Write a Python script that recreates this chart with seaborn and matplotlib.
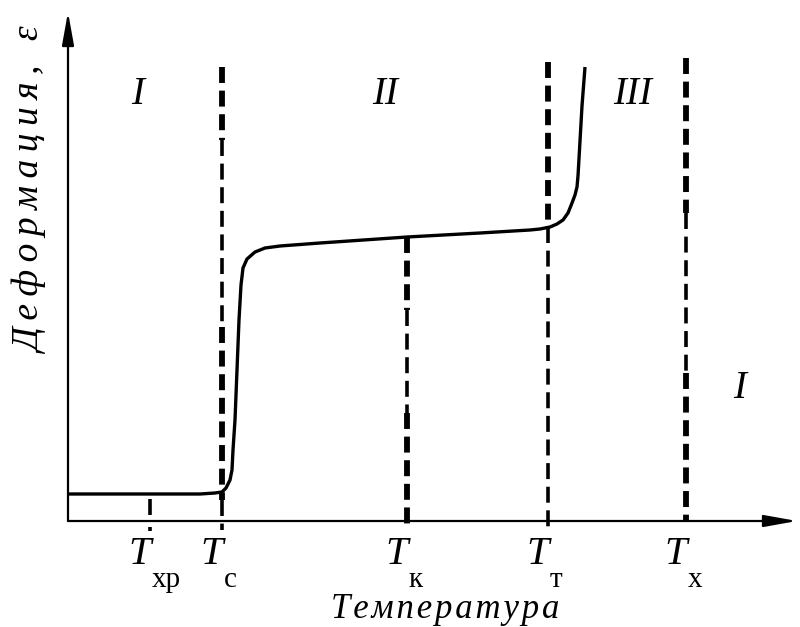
import numpy as np
import pandas as pd
import matplotlib
matplotlib.use("Agg")
import matplotlib.pyplot as plt
import seaborn as sns

# ---- data (schematic units: origin at the axes crossing) ----
# thermomechanical curve (temperature, deformation)
curve_T = [0, 82, 132, 147, 154, 158, 162, 164, 165, 167, 169, 171, 173, 175,
           179, 187, 197, 212, 252, 339, 412, 462, 472, 482, 489, 495, 500,
           504, 507, 509, 510, 512, 514, 517]
curve_eps = [27, 27, 27, 28, 29, 33, 41, 51, 71, 101, 151, 201, 236, 253,
             262, 269, 273, 275, 278, 284, 288, 291, 292, 294, 297, 301, 308,
             318, 326, 334, 345, 380, 415, 454]

# characteristic temperatures (x positions)
char_names = ["хр", "с", "к", "т", "х"]
char_T = [82, 154, 339, 480, 618]

# dashed marker segments for each temperature: (top, bottom, width)
segments = {
    "хр": [(22, 6, "thin"), (-6, -10, "thin")],
    "с": [(454, 381, "thick"), (381, 194, "thin"), (194, 21, "thick"), (21, -9, "thin")],
    "к": [(284, 211, "thick"), (211, 108, "thin"), (108, -9, "thick")],
    "т": [(459, 294, "thick"), (294, -8, "thin")],
    "х": [(463, 308, "thick"), (308, 148, "thin"), (148, 0, "thick")],
}
width_pt = {"thick": 4.2, "thin": 2.6}

# region labels
region_labels = ["I", "II", "III", "I"]
region_T = [70, 317, 565, 672]
region_eps = [426, 426, 426, 133]

x_label = "Температура"
y_label = "Деформация, ε"

# ---- figure ----
sns.set_theme(style="white")
plt.rcParams["font.family"] = ["Liberation Serif", "DejaVu Serif"]
plt.rcParams["lines.scale_dashes"] = False

fig = plt.figure(figsize=(8.0, 6.27), dpi=100)
ax = fig.add_axes([0, 0, 1, 1])
ax.set_xlim(-68, 732)
ax.set_ylim(-106, 521)
ax.axis("off")

# axes with arrows
arrow = dict(arrowstyle="-|>,head_length=1.0,head_width=0.18", color="black",
             lw=1.6, shrinkA=0, shrinkB=0, mutation_scale=20)
ax.annotate("", xy=(0, 509), xytext=(0, 0), arrowprops=arrow)
ax.annotate("", xy=(729, 0), xytext=(0, 0), arrowprops=arrow)

# curve
df = pd.DataFrame({"T": curve_T, "eps": curve_eps})
sns.lineplot(data=df, x="T", y="eps", sort=False, color="black", lw=2.4,
             ax=ax, solid_capstyle="butt", solid_joinstyle="round")

# dashed characteristic lines
for name, xt in zip(char_names, char_T):
    for top, bot, w in segments[name]:
        ax.plot([xt, xt], [top, bot], color="black", lw=width_pt[w],
                linestyle=(0, (11.5, 5.5)), dash_capstyle="butt")

# tick labels T_sub
for name, xt in zip(char_names, char_T):
    ax.text(xt + 1, -43, "T", fontsize=29, style="italic", ha="right",
            va="baseline", color="black")
    ax.text(xt + 2, -66, name, fontsize=21, ha="left", va="baseline",
            color="black")

# region labels
for lab, xt, yt in zip(region_labels, region_T, region_eps):
    ax.text(xt, yt, lab, fontsize=28, style="italic", ha="center",
            va="center", color="black")

# axis titles
ax.text(377, -97, "\u200a".join(x_label), fontsize=25, style="italic",
        ha="center", va="baseline", color="black")
ax.text(-36, 331, "\u2009".join(y_label), fontsize=27, style="italic",
        rotation=90, ha="center", va="center", color="black")

fig.savefig("out.png", dpi=100, facecolor="white")
